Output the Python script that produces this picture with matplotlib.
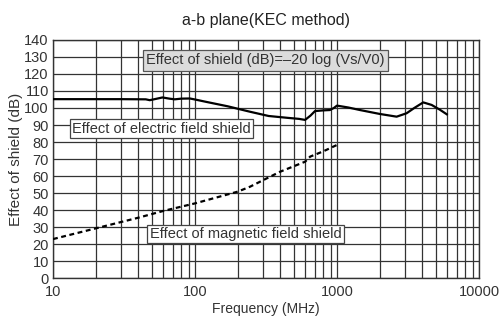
import matplotlib
matplotlib.use("Agg")
import matplotlib.pyplot as plt
from matplotlib.ticker import FixedLocator, NullFormatter

plt.rcParams["font.family"] = ["Liberation Sans", "DejaVu Sans"]

# electric field shield curve (MHz, dB)
elec_freq = [10, 30, 45, 48, 52, 59, 66, 72, 80, 92, 100, 120, 170, 244, 330, 450, 540,
             596, 650, 700, 800, 891, 950, 1000, 1200, 1452, 2000, 2630, 3090, 3500,
             4050, 4640, 5300, 5930]
elec_db = [105.2, 105.2, 105.1, 104.6, 105.2, 106.2, 105.5, 105.1, 105.5, 105.6, 105.0,
           103.6, 101.0, 97.8, 95.3, 94.2, 93.6, 93.0, 95.5, 98.2, 98.6, 98.8, 100.0,
           101.4, 100.3, 98.8, 96.5, 94.9, 96.9, 100.0, 103.3, 101.8, 99.0, 96.3]

# magnetic field shield curve (MHz, dB)
mag_freq = [10, 20, 40, 59.5, 100, 200, 244, 397, 596, 647, 800, 995]
mag_db = [22.9, 29.2, 35.5, 39.4, 43.9, 50.8, 53.7, 62.5, 68.4, 71.4, 74.5, 78.2]

title = "a-b plane(KEC method)"
xlabel = "Frequency (MHz)"
ylabel = "Effect of shield (dB)"
formula_text = "Effect of shield (dB)=\u201320 log (Vs/V0)"
elec_text = "Effect of electric field shield"
mag_text = "Effect of magnetic field shield"

fig = plt.figure(figsize=(5.0, 3.22), dpi=100)
ax = fig.add_axes([0.106, 0.1366, 0.852, 0.7392])

ax.set_xscale("log")
ax.set_xlim(10, 10000)
ax.set_ylim(0, 140)
ax.set_yticks(range(0, 141, 10))
ax.set_xticks([10, 100, 1000, 10000])
ax.set_xticklabels(["10", "100", "1000", "10000"])
minors = [m * d for d in (10, 100, 1000) for m in range(2, 10)]
ax.xaxis.set_minor_locator(FixedLocator(minors))
ax.xaxis.set_minor_formatter(NullFormatter())

ax.grid(True, which="both", axis="x", color="#333333", lw=0.9)
ax.grid(True, which="major", axis="y", color="#333333", lw=0.9)
ax.set_axisbelow(True)
for s in ax.spines.values():
    s.set_color("#333333")
    s.set_linewidth(1.0)

ax.tick_params(which="both", length=0, labelsize=10.5, colors="#333333")
ax.tick_params(axis="x", pad=5)
ax.tick_params(axis="y", pad=3)

ax.plot(elec_freq, elec_db, color="black", lw=1.6, zorder=3)
ax.plot(mag_freq, mag_db, color="black", lw=1.6, ls=(0, (2.2, 1.6)), zorder=3)

ax.set_title(title, fontsize=11.5, color="#222222", pad=11)
ax.set_xlabel(xlabel, fontsize=10, color="#333333", labelpad=2)
ax.set_ylabel(ylabel, fontsize=11, color="#333333", labelpad=1)

ax.text(0.499, 0.914, formula_text, transform=ax.transAxes, ha="center", va="center",
        fontsize=10.5, color="#333333", zorder=5,
        bbox=dict(boxstyle="square,pad=0.22", fc="#dcdcdc", ec="#555555", lw=0.9))
ax.text(0.255, 0.628, elec_text, transform=ax.transAxes, ha="center", va="center",
        fontsize=10.5, color="#333333", zorder=5,
        bbox=dict(boxstyle="square,pad=0.15", fc="white", ec="#444444", lw=0.9))
ax.text(0.452, 0.185, mag_text, transform=ax.transAxes, ha="center", va="center",
        fontsize=10.5, color="#333333", zorder=5,
        bbox=dict(boxstyle="square,pad=0.15", fc="white", ec="#444444", lw=0.9))

fig.savefig("out.png", dpi=100)
